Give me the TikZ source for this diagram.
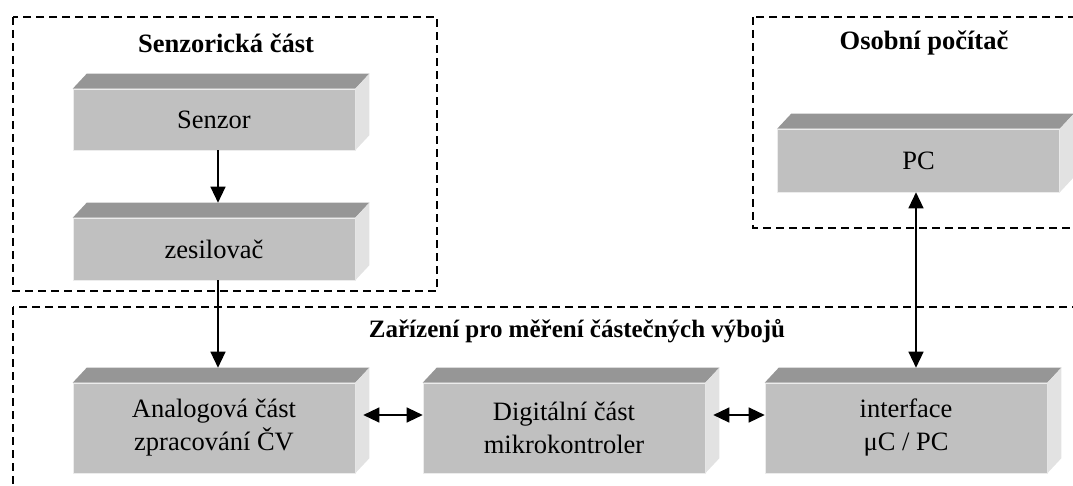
\documentclass[tikz,border=0pt]{standalone}
\usepackage{fontspec}
\setmainfont{Liberation Serif}
\usetikzlibrary{arrows.meta,calc}
\definecolor{frontc}{HTML}{C0C0C0}
\definecolor{topc}{HTML}{969696}
\definecolor{sidec}{HTML}{E2E2E2}
\tikzset{
  cube/.style={fill=frontc, draw=white!85!gray, line width=0.6pt, minimum width=282pt, inner sep=0pt, align=center,
    font=\fontsize{26.5}{33}\selectfont},
  grp/.style={draw=black, line width=1.3pt, dash pattern=on 8pt off 5pt},
  ttl/.style={font=\fontsize{26.5}{33}\selectfont\bfseries, inner sep=0pt},
  conn/.style={line width=1.3pt, -{Triangle[length=16pt,width=15pt]}},
  dconn/.style={line width=1.3pt, {Triangle[length=16pt,width=15pt]}-{Triangle[length=16pt,width=15pt]}}
}
\begin{document}
\begin{tikzpicture}[x=1pt,y=-1pt]
\useasboundingbox (0,0) rectangle (1073,486);
\clip (0,0) rectangle (1073,486);
% groups
\draw[grp] (13,17) rectangle (437,291);
\draw[grp] (753,17) rectangle (1100,228);
\draw[grp] (13,307) rectangle (1100,540);
\node[ttl] (t1) at (226,43) {Senzorická část};
\node[ttl] (t2) at (924,43) {Osobní počítač};
\node[ttl, font=\fontsize{25}{30}\selectfont\bfseries] (t3) at (577,331) {Zařízení pro měření částečných výbojů};
% boxes
\node[cube, minimum height=61pt] (senzor) at (214,119.5) {Senzor};
\node[cube, minimum height=62pt] (zes) at (214,249) {zesilovač};
\node[cube, minimum height=63pt] (pc) at (918.5,160.5) {PC};
\node[cube, minimum height=90pt] (analog) at (214,428) {Analogová část\\zpracování ČV};
\node[cube, minimum height=90pt] (digital) at (564,428) {Digitální část\\mikrokontroler};
\node[cube, minimum height=90pt] (iface) at (906,428) {interface\\μC / PC};
\foreach \n in {senzor,zes,pc,analog,digital,iface}{
  \fill[topc] (\n.north west) -- ++(14pt,15pt) -- ($(\n.north east)+(14pt,15pt)$) -- (\n.north east) -- cycle;
  \fill[sidec] (\n.north east) -- ++(14pt,15pt) -- ($(\n.south east)+(14pt,15pt)$) -- (\n.south east) -- cycle;
}
% connectors
\coordinate (ax) at (218,0);
\coordinate (ix) at (916,0);
\coordinate (hy) at (0,415);
\draw[conn] (ax |- senzor.south) -- ($(ax |- zes.north)+(0,15pt)$);
\draw[conn] (ax |- zes.south) -- ($(ax |- analog.north)+(0,15pt)$);
\draw[dconn] ($(analog.east |- hy)+(8pt,0)$) -- (digital.west |- hy);
\draw[dconn] ($(digital.east |- hy)+(8pt,0)$) -- (iface.west |- hy);
\draw[dconn] (ix |- pc.south) -- ($(ix |- iface.north)+(0,15pt)$);
\end{tikzpicture}
\end{document}
